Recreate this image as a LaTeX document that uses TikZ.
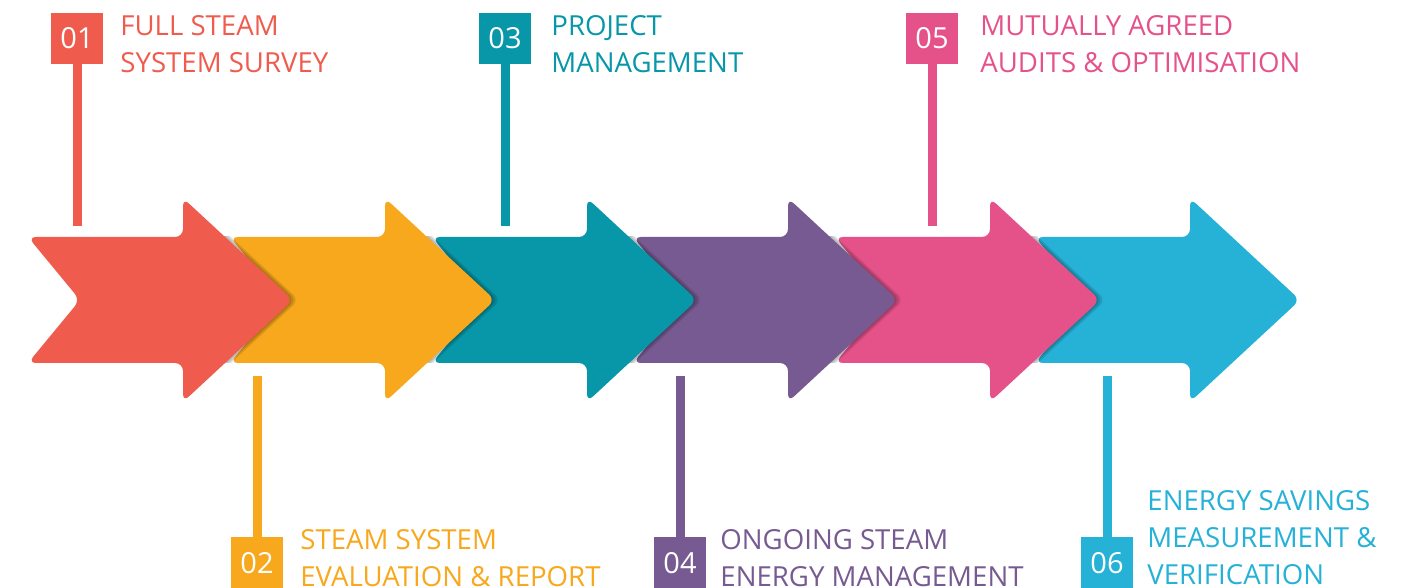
\documentclass[tikz,border=0pt]{standalone}
\usepackage{fontspec}
\setmainfont{Open Sans}
\definecolor{cred}{HTML}{EF5C4E}
\definecolor{corange}{HTML}{F7A81C}
\definecolor{cteal}{HTML}{0797A8}
\definecolor{cpurple}{HTML}{765A91}
\definecolor{cpink}{HTML}{E5528A}
\definecolor{cblue}{HTML}{26B1D7}
% one step arrow: #1 colour, #2 x of the tip
\newcommand{\chevron}[2]{%
  \fill[#1, rounded corners=4pt] (#2-265,237) -- (#2-110,237) -- (#2-110,198)
    -- (#2,300) -- (#2-110,402) -- (#2-110,363) -- (#2-265,363) -- (#2-213,300) -- cycle;}
% its shade on the next arrow
\newcommand{\chevshade}[1]{%
  \begin{scope}
    \clip (#1-120,237) rectangle (#1+30,363);
    \foreach \s in {1pt,2pt,3pt}
      \fill[black, opacity=.1, xshift=\s, rounded corners=4pt] (#1-110,198) -- (#1,300) -- (#1-110,402) -- cycle;
  \end{scope}}
\tikzset{
  numbox/.style={minimum width=26pt, minimum height=25.5pt, inner sep=0pt, text=white,
    font=\fontsize{14.5}{18.5}\selectfont},
  stem/.style={line width=4.5pt},
  steptext/.style={anchor=base west, align=left, inner sep=0pt,
    font=\fontsize{13.8}{18.5}\selectfont}
}
\begin{document}
\begin{tikzpicture}[x=0.5pt, y=-0.5pt]
  \useasboundingbox (0,0) rectangle (1410,588);

  \chevron{cblue}{1300}
  \chevshade{1100}
  \chevron{cpink}{1100}
  \chevshade{898}
  \chevron{cpurple}{898}
  \chevshade{697}
  \chevron{cteal}{697}
  \chevshade{495}
  \chevron{corange}{495}
  \chevshade{293}
  \chevron{cred}{293}

  \node[numbox, fill=cred] (n01) at (77,38.5) {01};
  \node[numbox, fill=corange] (n02) at (257,563) {02};
  \node[numbox, fill=cteal] (n03) at (505,38.5) {03};
  \node[numbox, fill=cpurple] (n04) at (680,563) {04};
  \node[numbox, fill=cpink] (n05) at (932,38.5) {05};
  \node[numbox, fill=cblue] (n06) at (1107,563) {06};

  \coordinate (s01) at (77,226);
  \coordinate (s02) at (257,376);
  \coordinate (s03) at (505,226);
  \coordinate (s04) at (680,376);
  \coordinate (s05) at (932,226);
  \coordinate (s06) at (1107,376);

  \draw[stem, cred] (n01) -- (s01);
  \draw[stem, corange] (n02) -- (s02);
  \draw[stem, cteal] (n03) -- (s03);
  \draw[stem, cpurple] (n04) -- (s04);
  \draw[stem, cpink] (n05) -- (s05);
  \draw[stem, cblue] (n06) -- (s06);

  \node[steptext, text=cred] (t01) at (120,73) {FULL STEAM\\SYSTEM SURVEY};
  \node[steptext, text=corange] (t02) at (300,586) {STEAM SYSTEM\\EVALUATION \& REPORT};
  \node[steptext, text=cteal] (t03) at (551,73) {PROJECT\\MANAGEMENT};
  \node[steptext, text=cpurple] (t04) at (720,586) {ONGOING STEAM\\ENERGY MANAGEMENT};
  \node[steptext, text=cpink] (t05) at (980,73) {MUTUALLY AGREED\\AUDITS \& OPTIMISATION};
  \node[steptext, text=cblue] (t06) at (1147,584) {ENERGY SAVINGS\\MEASUREMENT \&\\VERIFICATION};
\end{tikzpicture}
\end{document}
